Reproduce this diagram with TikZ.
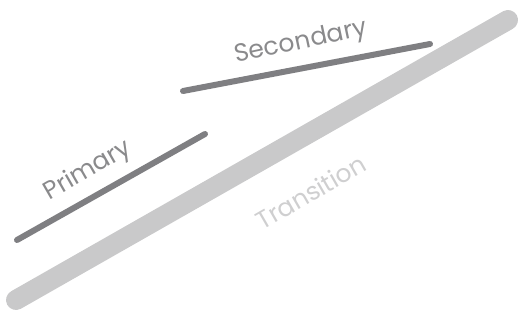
\documentclass[tikz,border=0pt]{standalone}
\usepackage{fontspec}
\setmainfont{Poppins}
\definecolor{dark}{HTML}{7F7F82}
\definecolor{light}{HTML}{C9C9CA}
\definecolor{labdark}{HTML}{8A8A8C}
\definecolor{lablight}{HTML}{CFCFD0}
\begin{document}
\begin{tikzpicture}[x=1pt,y=-1pt,
  thin line/.style={draw=dark,line width=6pt,line cap=round},
  thick band/.style={draw=light,line width=20pt,line cap=round},
  lab/.style={font=\fontsize{25}{30}\selectfont,text=labdark,inner sep=0pt}]
\useasboundingbox (0,0) rectangle (522,320);
\coordinate (t1) at (16,300);
\coordinate (t2) at (508,20);
\coordinate (p1) at (17,240);
\coordinate (p2) at (205,134);
\coordinate (s1) at (183,91);
\coordinate (s2) at (430,44);
\draw[thick band] (t1) -- (t2);
\draw[thin line] (p1) -- (p2);
\draw[thin line] (s1) -- (s2);
\node[lab,rotate=30] (primary) at (88,171) {Primary};
\node[lab,rotate=12] (secondary) at (301,43) {Secondary};
\node[lab,rotate=30,text=lablight] (transition) at (311,192) {Transition};
\end{tikzpicture}
\end{document}
